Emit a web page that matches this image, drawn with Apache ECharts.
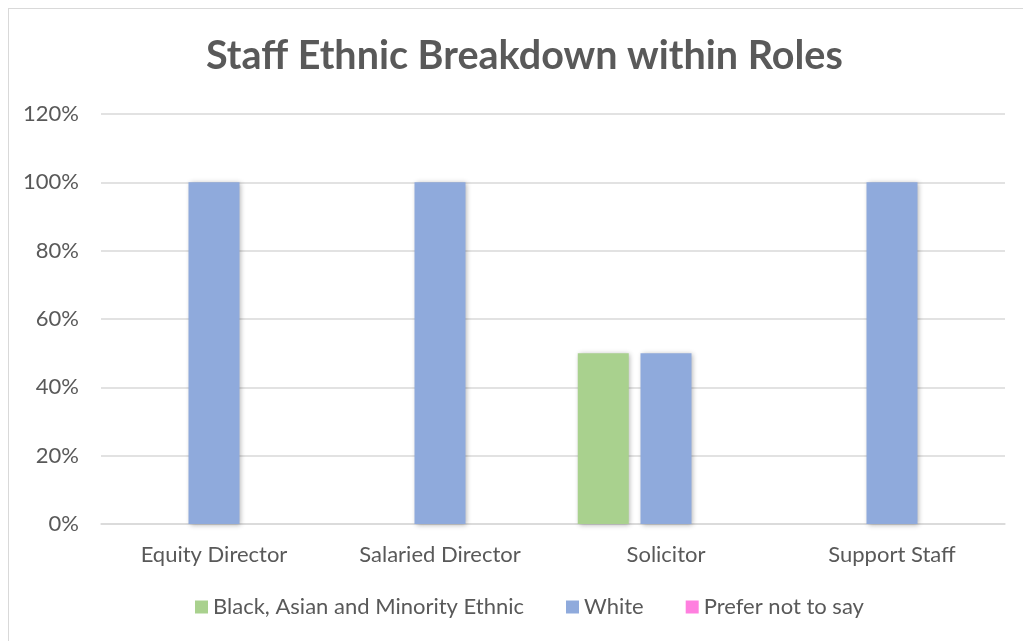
<!DOCTYPE html>
<html>
<head>
<meta charset="utf-8">
<script src="https://cdn.jsdelivr.net/npm/echarts@6/dist/echarts.min.js"></script>
<style>
html,body{margin:0;padding:0;background:#fff;}
#frame{position:absolute;left:8px;top:8px;width:1030px;height:640px;border:1px solid #d9d9d9;box-sizing:border-box;}
#chart{position:absolute;left:0;top:0;width:1023px;height:641px;}
</style>
</head>
<body>
<div id="frame"></div>
<div id="chart"></div>
<script>
const categories = ['Equity Director', 'Salaried Director', 'Solicitor', 'Support Staff'];
const seriesNames = ['Black, Asian and Minority Ethnic', 'White', 'Prefer not to say'];
const bameValues = [0, 0, 0.5, 0];
const whiteValues = [1, 1, 0.5, 1];
const preferValues = [0, 0, 0, 0];
const colors = ['#A9D18E', '#8FAADC', '#FF7FDF'];

const font = 'Lato, "Open Sans", sans-serif';
const chart = echarts.init(document.getElementById('chart'));
const values = [bameValues, whiteValues, preferValues];
chart.setOption({
  animation: false,
  title: {
    text: 'Staff Ethnic Breakdown within Roles',
    left: 201,
    top: 31,
    textStyle: {fontFamily: font, fontSize: 39.5, fontWeight: 'bold', color: '#595959'}
  },
  legend: {
    bottom: 18,
    left: 190,
    itemWidth: 13,
    itemHeight: 13,
    itemGap: 42,
    icon: 'rect',
    textStyle: {fontFamily: font, fontSize: 22, color: '#595959'},
    data: seriesNames
  },
  grid: {left: 101, right: 18, top: 114, bottom: 117},
  xAxis: {
    type: 'category',
    data: categories,
    axisTick: {show: false},
    axisLine: {lineStyle: {color: '#d9d9d9', width: 1.5}},
    axisLabel: {fontFamily: font, fontSize: 22, color: '#595959', margin: 20}
  },
  yAxis: {
    type: 'value',
    min: 0, max: 1.2, interval: 0.2,
    axisLine: {show: false},
    axisTick: {show: false},
    splitLine: {lineStyle: {color: '#d9d9d9', width: 1.5}},
    axisLabel: {fontFamily: font, fontSize: 22, color: '#595959', margin: 22,
      formatter: v => Math.round(v * 100) + '%'}
  },
  series: seriesNames.map((n, i) => ({
    name: n,
    type: 'bar',
    data: values[i],
    barWidth: 51,
    barGap: '23%',
    itemStyle: {color: colors[i], shadowBlur: 5, shadowColor: 'rgba(0,0,0,0.3)', shadowOffsetX: 1, shadowOffsetY: 1}
  }))
});
</script>
</body>
</html>
